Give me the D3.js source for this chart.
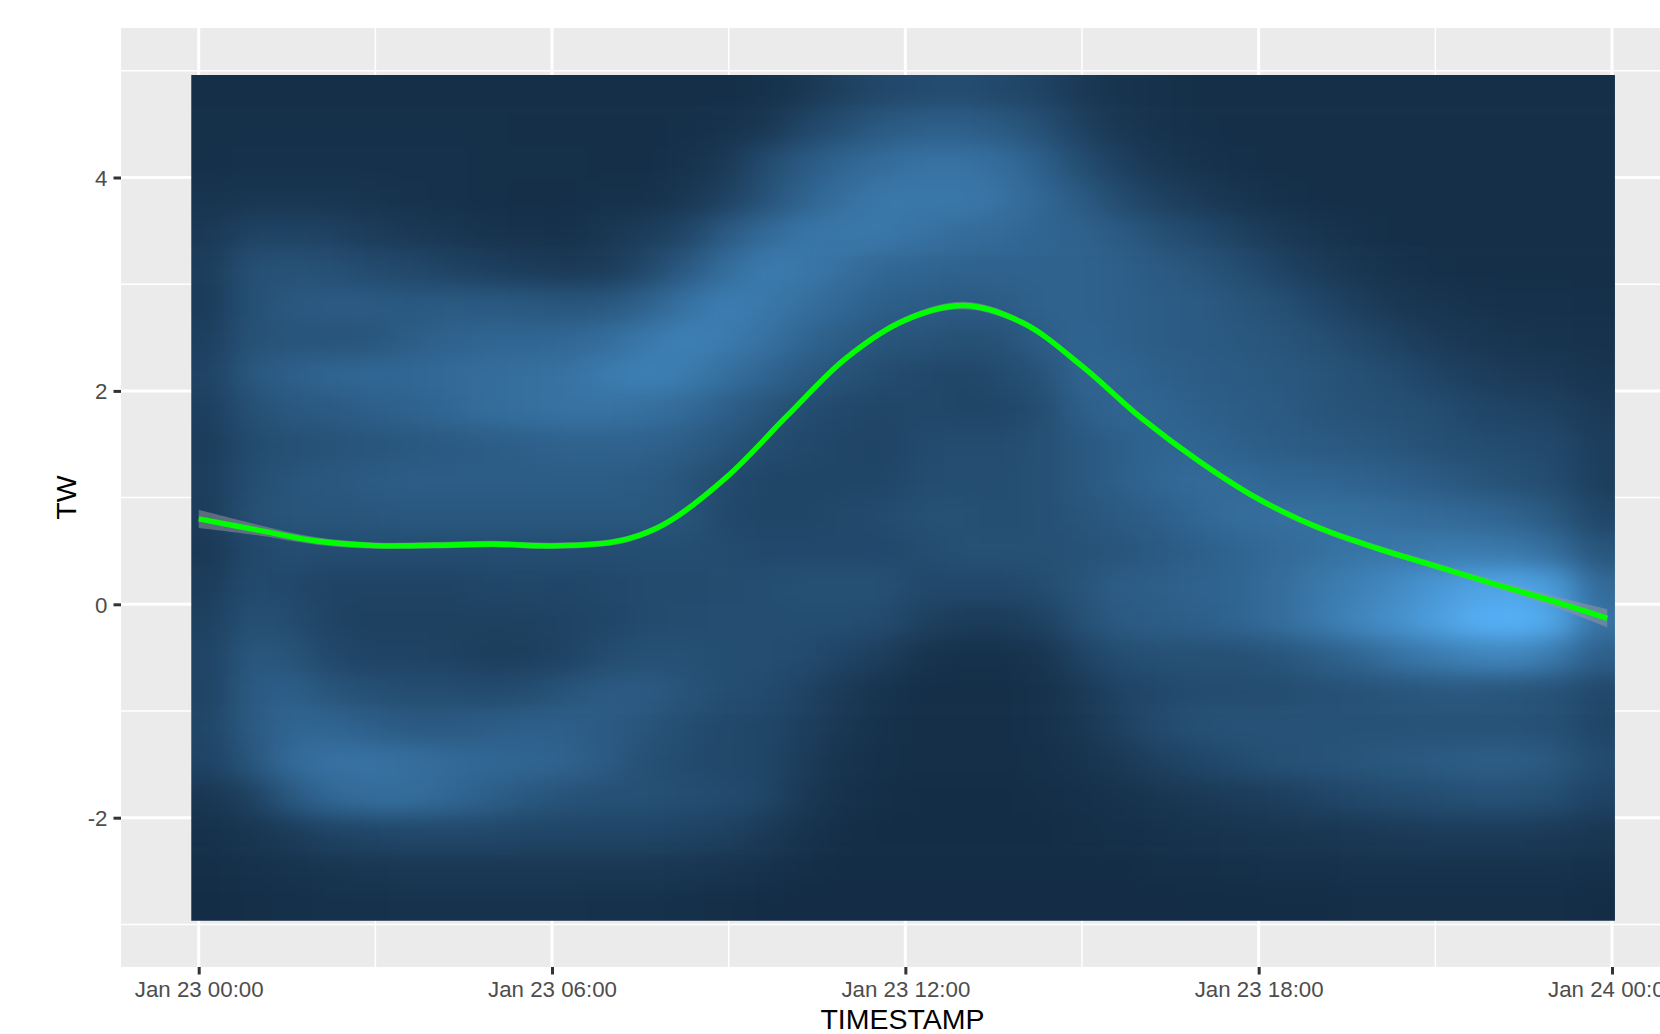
<!DOCTYPE html>
<html>
<head>
<meta charset="utf-8">
<script src="https://cdn.jsdelivr.net/npm/d3@7"></script>
<style>
  html, body { margin: 0; padding: 0; background: #fff; overflow: hidden; }
  svg { display: block; font-family: "Liberation Sans", Arial, sans-serif; }
</style>
</head>
<body>
<div id="chart"></div>
<script>
var xTickLabels = ['2020-01-23T00:00Z', '2020-01-23T06:00Z', '2020-01-23T12:00Z', '2020-01-23T18:00Z', '2020-01-24T00:00Z'];
var xMinorLabels = ['2020-01-23T03:00Z', '2020-01-23T09:00Z', '2020-01-23T15:00Z', '2020-01-23T21:00Z'];
var yTicks = [-2, 0, 2, 4];
var yMinor = [-3, -1, 1, 3, 5];

// green smooth line
var smoothHours = [0, 1, 2, 3, 4, 5, 6, 7, 7.5, 8, 9, 10, 11, 12, 13, 14, 15, 16, 17, 18, 19, 20, 21, 22, 23, 23.92];
var smoothTw = [0.80, 0.696, 0.593, 0.55, 0.553, 0.565, 0.548, 0.58, 0.65, 0.78, 1.21, 1.77, 2.31, 2.665, 2.80, 2.636, 2.233, 1.749, 1.336, 0.985, 0.721, 0.527, 0.359, 0.19, 0.03, -0.131];
var smoothSe = [0.085, 0.05, 0.035, 0.03, 0.03, 0.03, 0.03, 0.03, 0.03, 0.03, 0.03, 0.03, 0.03, 0.03, 0.035, 0.03, 0.03, 0.03, 0.03, 0.03, 0.03, 0.03, 0.03, 0.035, 0.05, 0.085];

// density, top row first, left column first, 0-100
var densityRows = [
  [3,3,3,3,3,3,3,3,3,3,3,3,3,3,5,10,18,24,26,28,24,20,12,7,5,3,3,3,3,3,3,3,3,3,3,3],
  [4,4,4,4,4,4,4,4,3,3,3,3,4,6,10,22,30,38,42,42,38,30,18,10,6,4,3,3,3,3,3,3,3,3,3,3],
  [4,5,5,5,5,5,5,4,4,4,3,3,6,12,26,38,46,52,56,56,52,42,28,17,10,6,4,3,3,3,3,3,3,3,3,3],
  [8,9,9,9,8,6,5,4,3,3,5,5,10,18,32,45,54,60,60,60,56,48,38,26,18,13,8,5,3,3,3,3,3,3,3,3],
  [12,20,20,19,15,12,10,7,6,5,10,15,22,38,50,58,60,60,56,52,50,46,44,38,30,25,18,12,8,5,3,3,3,3,3,3],
  [15,30,32,30,26,24,20,17,14,13,14,24,38,52,62,60,54,48,46,44,44,44,44,42,38,34,28,20,14,9,6,4,3,3,3,3],
  [14,30,36,38,38,36,38,37,36,34,36,44,56,64,60,54,48,42,40,38,40,44,44,42,40,38,34,30,22,16,10,8,6,5,5,4],
  [17,32,33,33,34,40,44,46,46,48,52,60,66,62,56,46,40,34,33,30,32,40,46,42,40,38,36,34,30,24,18,13,10,8,7,6],
  [20,36,42,46,48,48,50,52,54,56,62,66,62,54,46,38,32,27,24,22,26,32,46,46,42,40,38,36,34,30,26,20,16,13,12,8],
  [17,30,36,38,42,44,48,52,54,56,56,54,50,42,34,28,24,22,24,22,22,28,42,46,46,42,40,38,34,32,30,28,22,20,18,13],
  [15,26,30,32,34,36,38,40,42,44,44,44,40,34,28,24,22,20,26,27,27,30,36,42,46,46,42,40,38,36,34,30,28,26,24,16],
  [16,28,34,36,38,40,40,40,40,40,40,38,34,26,22,22,22,22,27,28,28,30,36,42,48,50,50,46,46,44,42,38,34,30,26,16],
  [15,30,34,34,35,36,36,36,36,36,36,36,34,24,22,22,24,26,30,30,28,30,34,38,42,48,52,54,54,54,52,50,48,44,36,22],
  [12,24,28,28,28,28,28,28,28,28,28,28,28,27,25,25,25,25,27,30,30,30,32,34,38,42,46,50,54,58,60,62,62,60,52,34],
  [15,26,24,20,20,20,20,22,23,22,24,26,26,27,28,30,30,30,24,24,24,27,33,40,42,44,46,52,60,66,74,82,90,92,84,50],
  [18,30,27,20,18,18,18,18,18,20,22,26,27,28,28,28,28,26,18,14,14,18,30,38,40,42,46,52,60,70,78,88,98,100,92,56],
  [20,36,33,24,20,20,19,16,17,20,27,30,30,28,28,26,20,16,7,5,5,8,20,28,30,30,30,34,40,46,56,62,68,70,60,42],
  [20,38,42,34,30,28,28,26,28,34,38,38,33,28,26,20,13,7,3,3,3,5,12,20,24,27,27,27,30,32,34,36,36,34,32,24],
  [22,38,46,46,42,38,38,40,42,42,38,34,28,24,22,17,10,5,3,3,3,5,10,18,26,30,32,32,32,32,32,32,32,32,30,22],
  [20,34,50,56,56,54,50,48,46,44,38,30,26,24,22,14,7,4,3,3,3,4,7,12,18,22,26,30,32,34,36,38,40,40,36,26],
  [10,18,36,48,52,52,48,42,36,32,30,30,28,26,22,12,5,3,2,2,2,3,4,6,9,12,14,16,20,24,26,28,30,30,28,20],
  [5,9,14,20,22,24,24,24,22,22,22,22,20,18,13,7,3,2,2,2,2,2,3,4,5,7,8,9,10,11,13,14,14,14,13,10],
  [3,5,7,9,10,11,11,11,11,11,11,11,10,8,6,3,2,2,2,2,2,2,2,2,3,3,4,5,5,6,6,6,6,6,6,5],
  [2,3,4,5,5,6,6,6,6,6,5,5,4,3,2,1,1,1,1,1,1,1,1,1,1,2,2,2,2,3,3,3,3,3,3,2]
];
var densityHours = [-0.126, 24.05];
var densityTw = [-2.965, 4.96];

var width = 1660;
var height = 1034;
var panel = { left: 121, right: 1660, top: 28, bottom: 967 };

var t0 = new Date(xTickLabels[0]);
var t1 = new Date(xTickLabels[4]);
var hourMs = 3600000;

var x = d3.scaleUtc().domain([t0, t1]).range([198.7, 1612]);
var y = d3.scaleLinear().domain([-2, 4]).range([817.7, 177.5]);
var fill = d3.scaleLinear().domain([0, 100]).range(['#132B43', '#56B1F7']).interpolate(d3.interpolateLab);

function hourToDate(h) {
  return new Date(+t0 + h * hourMs);
}

var svg = d3.select('#chart').append('svg')
  .attr('width', width)
  .attr('height', height);

svg.append('rect')
  .attr('x', panel.left).attr('y', panel.top)
  .attr('width', panel.right - panel.left).attr('height', panel.bottom - panel.top)
  .attr('fill', '#EBEBEB');

var grid = svg.append('g');

function vLines(values, w) {
  grid.append('g').selectAll('line').data(values).enter().append('line')
    .attr('x1', d => x(new Date(d))).attr('x2', d => x(new Date(d)))
    .attr('y1', panel.top).attr('y2', panel.bottom)
    .attr('stroke', '#fff').attr('stroke-width', w);
}
function hLines(values, w) {
  grid.append('g').selectAll('line').data(values).enter().append('line')
    .attr('x1', panel.left).attr('x2', panel.right)
    .attr('y1', d => y(d)).attr('y2', d => y(d))
    .attr('stroke', '#fff').attr('stroke-width', w);
}
vLines(xMinorLabels, 1.5);
hLines(yMinor, 1.5);
vLines(xTickLabels, 3);
hLines(yTicks, 3);

// density tiles, blurred together, edge tiles run on past the clip so the blur has no fade
var rasterLeft = x(hourToDate(densityHours[0]));
var rasterRight = x(hourToDate(densityHours[1]));
var rasterTop = y(densityTw[1]);
var rasterBottom = y(densityTw[0]);
var nRows = densityRows.length;
var nCols = densityRows[0].length;
var colX = d3.scaleLinear().domain([0, nCols]).range([rasterLeft, rasterRight]);
var rowY = d3.scaleLinear().domain([0, nRows]).range([rasterTop, rasterBottom]);
var bleed = 80;

var defs = svg.append('defs');
defs.append('clipPath').attr('id', 'raster-clip').append('rect')
  .attr('x', rasterLeft).attr('y', rasterTop)
  .attr('width', rasterRight - rasterLeft).attr('height', rasterBottom - rasterTop);
defs.append('filter').attr('id', 'soften')
  .attr('filterUnits', 'userSpaceOnUse')
  .attr('x', rasterLeft - bleed).attr('y', rasterTop - bleed)
  .attr('width', rasterRight - rasterLeft + 2 * bleed).attr('height', rasterBottom - rasterTop + 2 * bleed)
  .attr('color-interpolation-filters', 'sRGB')
  .append('feGaussianBlur').attr('stdDeviation', '17 11');

var tiles = svg.append('g').attr('clip-path', 'url(#raster-clip)')
  .append('g').attr('filter', 'url(#soften)');

densityRows.forEach(function(row, j) {
  tiles.selectAll('rect.r' + j).data(row).enter().append('rect')
    .attr('class', 'r' + j)
    .attr('x', (d, i) => i == 0 ? colX(0) - bleed : colX(i))
    .attr('y', j == 0 ? rowY(0) - bleed : rowY(j))
    .attr('width', (d, i) => colX(i + 1) - colX(i) + (i == 0 || i == nCols - 1 ? bleed : 0) + 0.5)
    .attr('height', rowY(1) - rowY(0) + (j == 0 || j == nRows - 1 ? bleed : 0) + 0.5)
    .attr('fill', d => fill(d));
});

// smooth ribbon and line
var ribbon = d3.area()
  .x((d, i) => x(hourToDate(smoothHours[i])))
  .y0((d, i) => y(d - smoothSe[i]))
  .y1((d, i) => y(d + smoothSe[i]))
  .curve(d3.curveCatmullRom);

svg.append('path').datum(smoothTw)
  .attr('d', ribbon)
  .attr('fill', '#999999').attr('fill-opacity', 0.5);

var line = d3.line()
  .x((d, i) => x(hourToDate(smoothHours[i])))
  .y(d => y(d))
  .curve(d3.curveCatmullRom);

svg.append('path').datum(smoothTw)
  .attr('d', line)
  .attr('fill', 'none')
  .attr('stroke', '#00FF00').attr('stroke-width', 5.4);

// axes
var xAxis = d3.axisBottom(x)
  .tickValues(xTickLabels.map(d => new Date(d)))
  .tickFormat(d3.utcFormat('%b %d %H:%M'))
  .tickSize(7.5);
var gx = svg.append('g').attr('transform', 'translate(0,' + panel.bottom + ')').call(xAxis);
gx.select('.domain').remove();
gx.selectAll('line').attr('stroke', '#333333').attr('stroke-width', 3);
gx.selectAll('text')
  .attr('y', 30).attr('dy', 0)
  .attr('fill', '#4D4D4D').attr('font-size', 22.3);

var yAxis = d3.axisLeft(y).tickValues(yTicks).tickSize(7.5);
var gy = svg.append('g').attr('transform', 'translate(' + panel.left + ',0)').call(yAxis);
gy.select('.domain').remove();
gy.selectAll('line').attr('stroke', '#333333').attr('stroke-width', 3);
gy.selectAll('text')
  .text(d => String(d).replace('\u2212', '-'))
  .attr('x', -13.5).attr('dy', '0.36em')
  .attr('fill', '#4D4D4D').attr('font-size', 22.3);

svg.append('text')
  .attr('x', 902.5).attr('y', 1029)
  .attr('text-anchor', 'middle')
  .attr('font-size', 28.5).attr('fill', '#000')
  .text('TIMESTAMP');

svg.append('text')
  .attr('transform', 'translate(76,497.5) rotate(-90)')
  .attr('text-anchor', 'middle')
  .attr('font-size', 28.5).attr('fill', '#000')
  .text('TW');
</script>
</body>
</html>
